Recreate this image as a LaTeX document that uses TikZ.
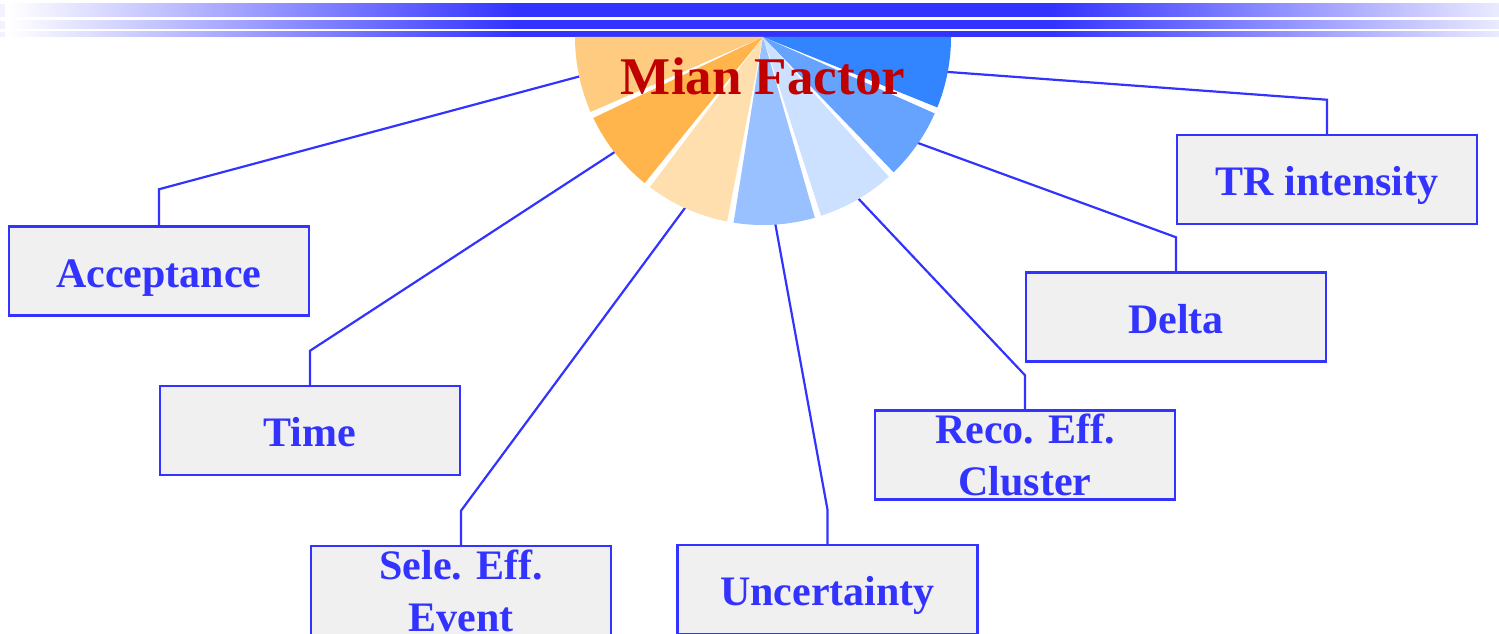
\documentclass[tikz,border=0pt]{standalone}
\usepackage{fontspec}
\setmainfont{Liberation Serif}
\definecolor{lineblue}{HTML}{3333FF}
\definecolor{boxgray}{HTML}{F0F0F0}
\definecolor{titlered}{HTML}{C00000}
\definecolor{sA}{HTML}{FFCB80}
\definecolor{sB}{HTML}{FFB54C}
\definecolor{sC}{HTML}{FFDFAE}
\definecolor{sD}{HTML}{99C0FF}
\definecolor{sE}{HTML}{CCE0FF}
\definecolor{sF}{HTML}{66A3FF}
\definecolor{sG}{HTML}{3385FF}
% header bar: white -> blue plateau -> pale blue (path maps to 25bp..75bp)
\pgfdeclarehorizontalshading{barfade}{100bp}{%
  color(0bp)=(white); color(25bp)=(white); color(42bp)=(lineblue);
  color(60bp)=(lineblue); color(75bp)=(lineblue!10); color(100bp)=(lineblue!10)}
\begin{document}
\begin{tikzpicture}[x=1pt,y=-1pt,
  box/.style={draw=lineblue, fill=boxgray, line width=2.5pt,
    minimum width=300pt, minimum height=89pt, inner sep=0pt,
    font=\fontsize{42}{52}\selectfont\bfseries, text=lineblue, align=center},
  oneline/.style={text height=32pt, text depth=0pt},
  link/.style={draw=lineblue, line width=2.2pt, line join=miter},
]
\useasboundingbox (0,0) rectangle (1499,634);

% header bars
\foreach \ya/\yb in {4/17, 21/29, 32/37}{
  \fill[lineblue!6] (0,\ya) rectangle (5,\yb);
  \shade[shading=barfade] (9,\ya) rectangle (1499,\yb);
}

% boxes
\node[box, oneline] (acc) at (159,271) {Acceptance};
\node[box, oneline] (time) at (310,430.5) {Time};
\node[box] (sele) at (461,590.5) {Sele. Eff.\\Event};
\node[box, oneline] (unc) at (827.5,589.5) {Uncertainty};
\node[box] (reco) at (1025,455) {Reco. Eff.\\Cluster};
\node[box, oneline] (delta) at (1176,317) {Delta};
\node[box, oneline] (tr) at (1327,179.5) {TR intensity};

% pie centre and connector anchors on the slices
\coordinate (pc) at (763,37);
\path (pc) ++(168:180) coordinate (pA)
      (pc) ++(142:180) coordinate (pB)
      (pc) ++(114:180) coordinate (pC)
      (pc) ++(86.5:180) coordinate (pD)
      (pc) ++(60:180) coordinate (pE)
      (pc) ++(35:180) coordinate (pF)
      (pc) ++(11:180) coordinate (pG);

% connectors
\draw[link] (pA) -- ([yshift=36pt]acc.north) -- (acc.north);
\draw[link] (pB) -- ([yshift=34pt]time.north) -- (time.north);
\draw[link] (pC) -- ([yshift=34pt]sele.north) -- (sele.north);
\draw[link] (pD) -- ([yshift=34pt]unc.north) -- (unc.north);
\draw[link] (pE) -- ([yshift=34pt]reco.north) -- (reco.north);
\draw[link] (pF) -- ([yshift=34pt]delta.north) -- (delta.north);
\draw[link] (pG) -- ([yshift=34pt]tr.north) -- (tr.north);

% half pie with small angular gaps
\foreach \c/\a/\b in {sA/180/156.5, sB/154.5/129, sC/127/101, sD/99/74,
                       sE/72/48, sF/46/24, sG/22/0}{
  \fill[\c] (pc) -- ++(\a:188) arc[start angle=\a, end angle=\b, radius=188] -- cycle;
}

\node[anchor=base, text=titlered, font=\fontsize{53}{60}\selectfont\bfseries, inner sep=0pt]
  (title) at (763,95) {Mian Factor};
\end{tikzpicture}
\end{document}
